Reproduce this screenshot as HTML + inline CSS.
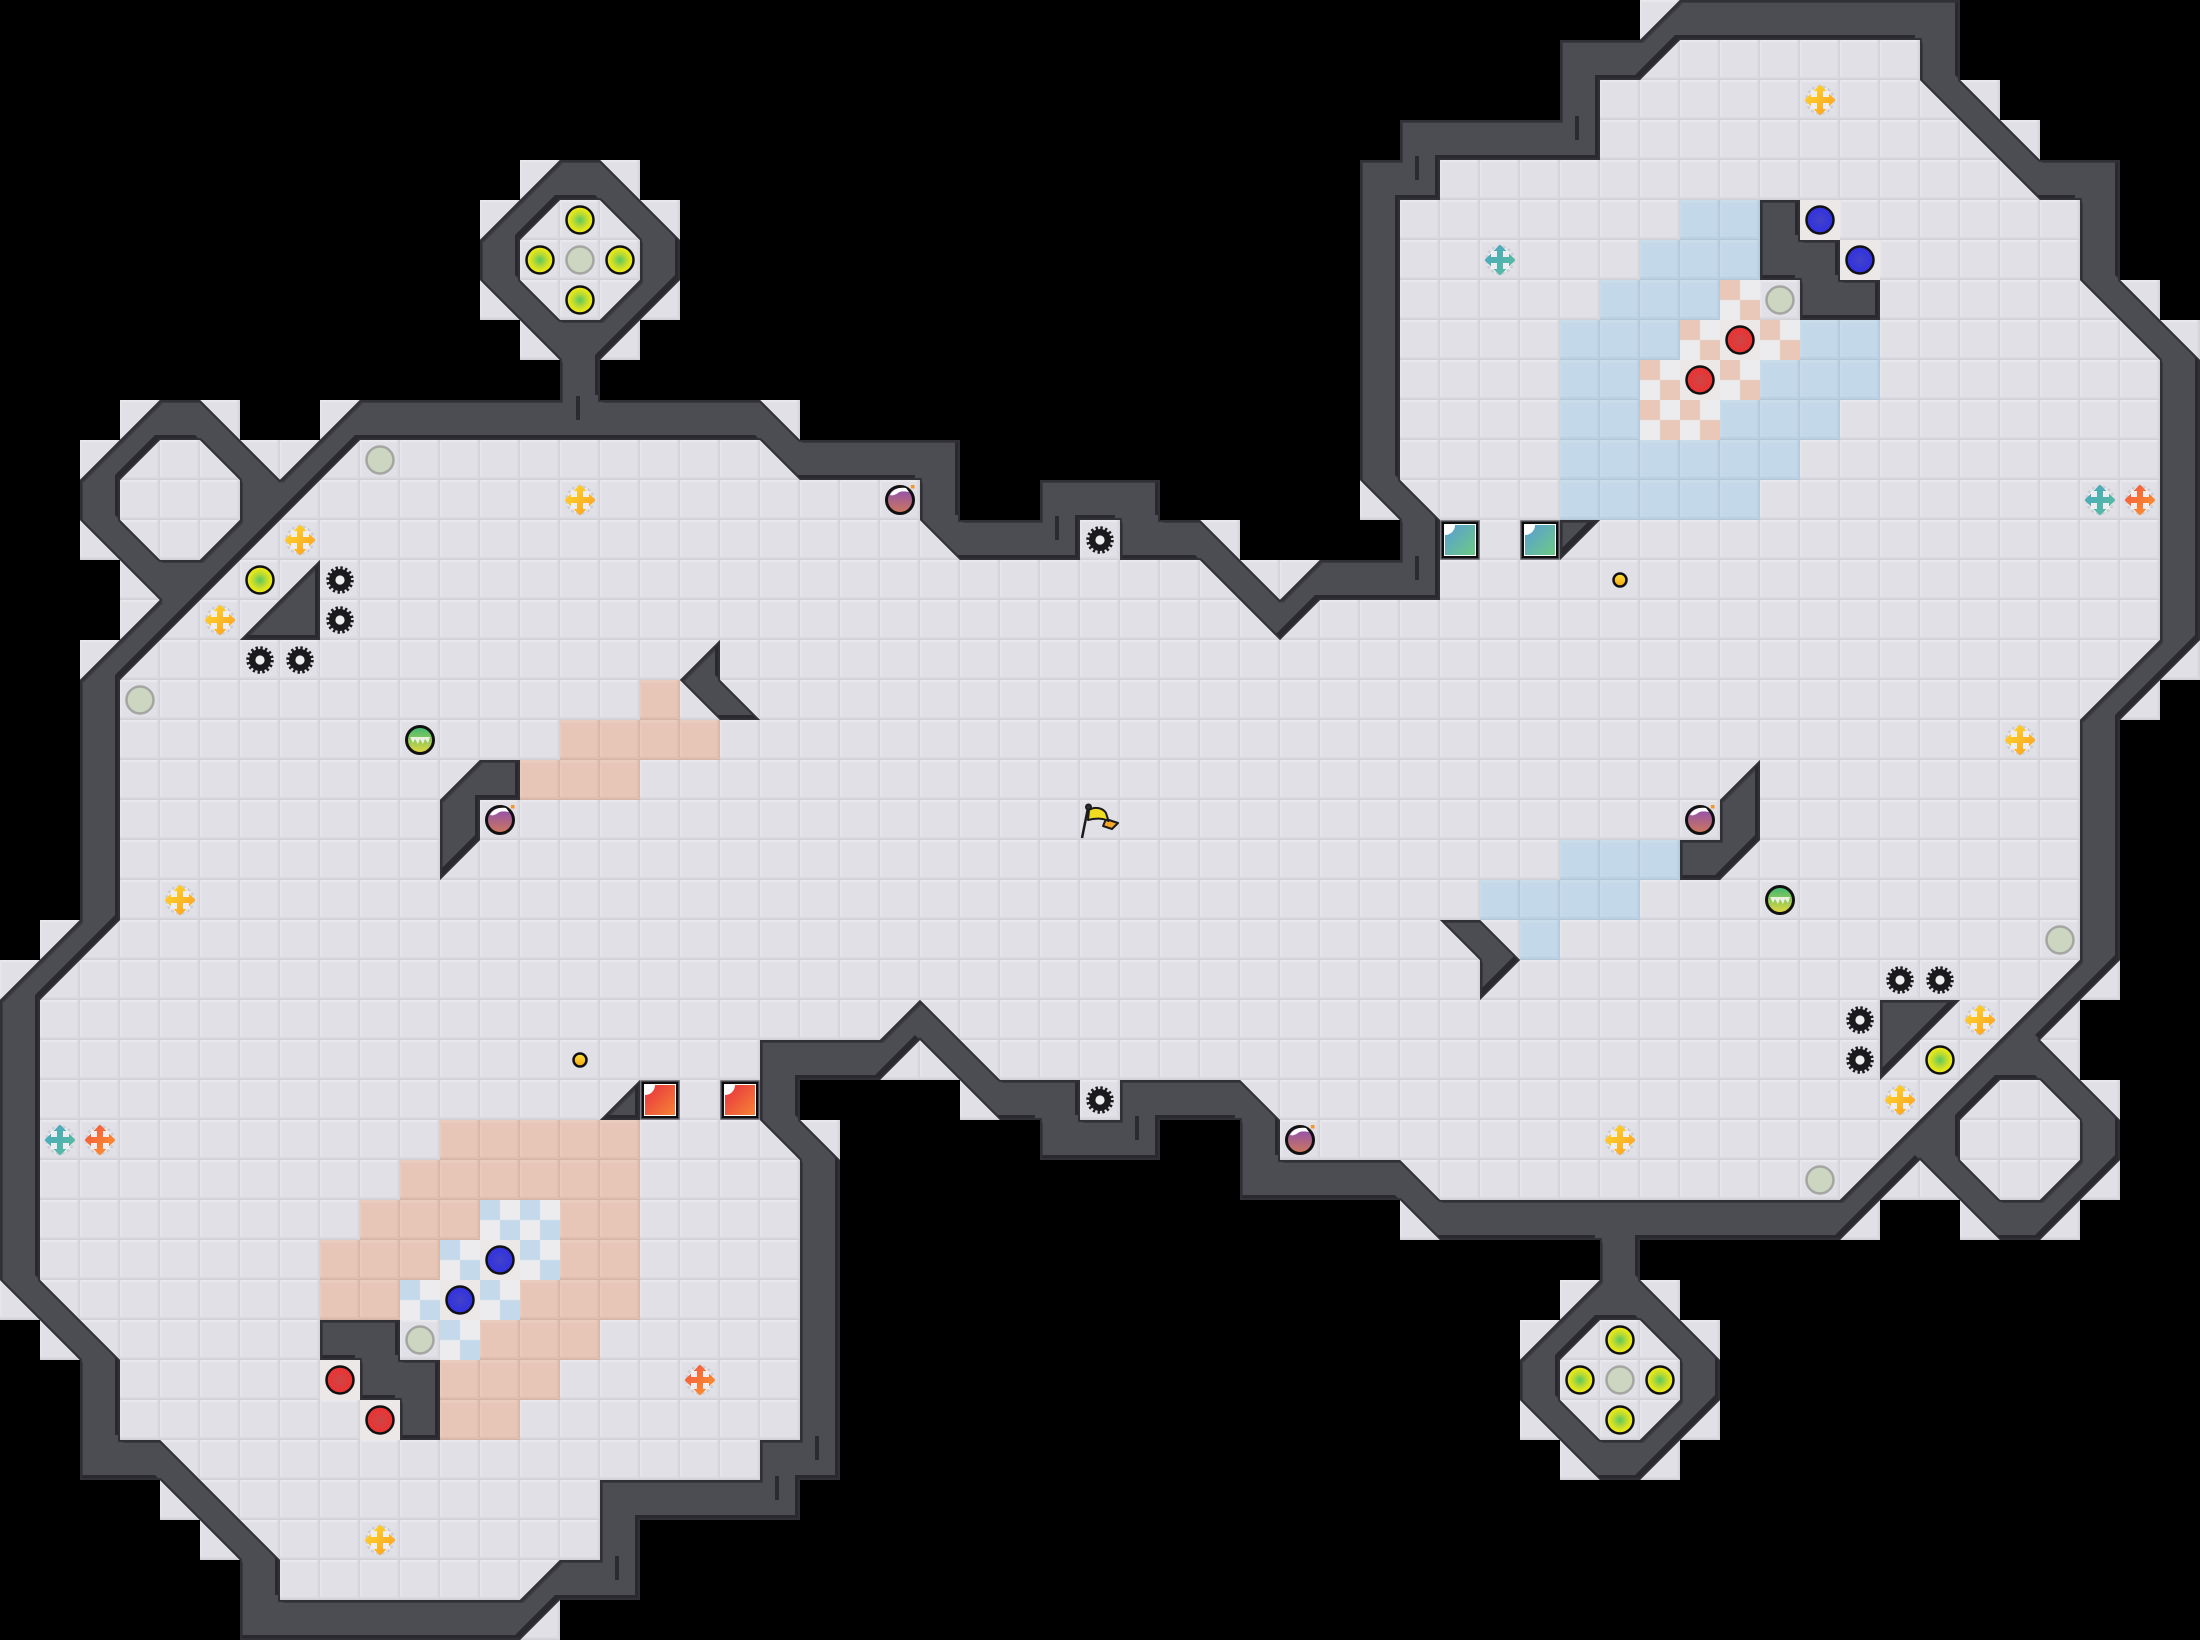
<!DOCTYPE html>
<html>
<head>
<meta charset="utf-8">
<style>
html,body{margin:0;padding:0;background:#000;width:2200px;height:1640px;overflow:hidden}
svg{display:block}
</style>
</head>
<body>
<svg xmlns="http://www.w3.org/2000/svg" width="2200" height="1640" viewBox="0 0 2200 1640">
<defs>
<pattern id="t" width="40" height="40" patternUnits="userSpaceOnUse" patternTransform="scale(.025)">
<rect width="40" height="40" fill="#e0e0e6"/>
<rect width="40" height="2" fill="#e8e8ed"/>
<rect width="2" height="40" fill="#e5e5ea"/>
<rect x="37" width="3" height="40" fill="#dadae0"/>
<rect x="39" width="1" height="40" fill="#d2d2d9"/>
<rect y="37" width="40" height="3" fill="#d9d9df"/>
<rect y="39" width="40" height="1" fill="#d0d0d7"/>
</pattern>
<pattern id="pe" width="40" height="40" patternUnits="userSpaceOnUse" patternTransform="scale(.025)">
<rect width="40" height="40" fill="#e7c6b8"/>
<rect width="40" height="3" fill="#eaccbf"/>
<rect width="2" height="40" fill="#e9cabc"/>
<rect x="37" width="3" height="40" fill="#e0bfb1"/>
<rect x="39" width="1" height="40" fill="#d7b6a8"/>
<rect y="37" width="40" height="3" fill="#dfbeb0"/>
<rect y="39" width="40" height="1" fill="#d6b5a7"/>
</pattern>
<pattern id="bl" width="40" height="40" patternUnits="userSpaceOnUse" patternTransform="scale(.025)">
<rect width="40" height="40" fill="#c3d8e8"/>
<rect width="40" height="3" fill="#c9dcea"/>
<rect width="2" height="40" fill="#c7dbea"/>
<rect x="37" width="3" height="40" fill="#bcd1e1"/>
<rect x="39" width="1" height="40" fill="#b3c8d8"/>
<rect y="37" width="40" height="3" fill="#bbd0e0"/>
<rect y="39" width="40" height="1" fill="#b2c7d7"/>
</pattern>
<pattern id="pc" width="40" height="40" patternUnits="userSpaceOnUse" patternTransform="scale(.025)">
<rect width="40" height="40" fill="#ecebee"/>
<rect width="20" height="20" fill="#e9c8ba"/>
<rect x="20" y="20" width="20" height="20" fill="#e9c8ba"/>
</pattern>
<pattern id="bc" width="40" height="40" patternUnits="userSpaceOnUse" patternTransform="scale(.025)">
<rect width="40" height="40" fill="#ecebee"/>
<rect width="20" height="20" fill="#c4d9e9"/>
<rect x="20" y="20" width="20" height="20" fill="#c4d9e9"/>
</pattern>
<path id="W" fill-rule="evenodd" clip-rule="evenodd" d="M4 10L5 10 7 12 9 10 14 10 14 9 12 7 12 6 14 4 15 4 17 6 17 7 15 9 15 10 19 10 20 11 24 11 24 13 26 13 26 12 29 12 29 13 30 13 32 15 33 14 35 14 35 13 34 12 34 4 35 4 35 3 39 3 39 1 41 1 42 0 49 0 49 2 51 4 53 4 53 7 55 9 55 16 53 18 53 24 51 26 53 28 53 29 51 31 50 31 48 29 46 31 41 31 41 32 43 34 43 35 41 37 40 37 38 35 38 34 40 32 40 31 36 31 35 30 31 30 31 28 29 28 29 29 26 29 26 28 25 28 23 26 22 27 20 27 20 28 21 29 21 37 20 37 20 38 16 38 16 40 14 40 13 41 6 41 6 39 4 37 2 37 2 34 0 32 0 25 2 23 2 17 4 15 2 13 2 12Z
M3 17L9 11 19 11 20 12 23 12 23 13 24 14 27 14 27 13 28 13 28 14 30 14 32 16 33 15 36 15 36 13 35 12 35 5 36 5 36 4 40 4 40 2 41 2 42 1 48 1 48 2 51 5 52 5 52 7 54 9 54 16 52 18 52 24 46 30 36 30 35 29 32 29 32 28 31 27 28 27 28 28 27 28 27 27 25 27 23 25 22 26 19 26 19 28 20 29 20 36 19 36 19 37 15 37 15 39 14 39 13 40 7 40 7 39 4 36 3 36 3 34 1 32 1 25 3 23Z
M4 11h1l1 1v1l-1 1h-1l-1-1v-1z
M50 27h1l1 1v1l-1 1h-1l-1-1v-1z
M14 5h1l1 1v1l-1 1h-1l-1-1v-1z
M40 33h1l1 1v1l-1 1h-1l-1-1v-1z
M6 16L8 14V16Z
M47 25H49L47 27Z
M15 28L16 27V28Z
M39 13H40L39 14Z
M18 16V17L19 18H18L17 17Z
M12 19H13V20H12V21L11 22V20Z
M44 19V21L43 22H42V21H43V20Z
M36 23H37L38 24L37 25V24Z
M44 5H45V6H46V7H47V8H45V7H44Z
M8 33H10V34H11V36H10V35H9V34H8Z"/>
<clipPath id="w"><use href="#W" transform="scale(40)" clip-rule="evenodd"/></clipPath>

<radialGradient id="gl"><stop offset="0" stop-color="#58c862"/><stop offset=".45" stop-color="#b4d936"/><stop offset=".8" stop-color="#e6e81a"/><stop offset="1" stop-color="#ecec12"/></radialGradient>
<radialGradient id="gb"><stop offset="0" stop-color="#4242c8"/><stop offset="1" stop-color="#3030e2"/></radialGradient>
<radialGradient id="gr"><stop offset="0" stop-color="#cc4646"/><stop offset="1" stop-color="#f03030"/></radialGradient>
<linearGradient id="cy" x1="0" y1="0" x2="1" y2="1"><stop offset="0" stop-color="#ffdb2c"/><stop offset="1" stop-color="#fb9c20"/></linearGradient>
<linearGradient id="ct" x1="0" y1="0" x2="1" y2="1"><stop offset="0" stop-color="#45a4c4"/><stop offset="1" stop-color="#5cc09a"/></linearGradient>
<linearGradient id="co" x1="0" y1="0" x2="1" y2="1"><stop offset="0" stop-color="#f34f40"/><stop offset="1" stop-color="#fd9c2c"/></linearGradient>
<linearGradient id="gp" x1="0" y1="0" x2="0" y2="1"><stop offset="0" stop-color="#8a4db8"/><stop offset="1" stop-color="#cf7858"/></linearGradient>
<linearGradient id="gs" x1="0" y1="0" x2="0" y2="1"><stop offset="0" stop-color="#38b874"/><stop offset="1" stop-color="#e8d83c"/></linearGradient>
<linearGradient id="gy" x1="0" y1="0" x2="0" y2="1"><stop offset="0" stop-color="#ffe23c"/><stop offset="1" stop-color="#f4a510"/></linearGradient>
<linearGradient id="gt" x1="0" y1="0" x2="1" y2="1"><stop offset="0" stop-color="#5a9cd4"/><stop offset="1" stop-color="#6ccb84"/></linearGradient>
<linearGradient id="gd" x1="0" y1="0" x2="1" y2="1"><stop offset="0" stop-color="#e6303f"/><stop offset="1" stop-color="#f98436"/></linearGradient>

<circle id="lime" r="13.5" fill="url(#gl)" stroke="#111" stroke-width="2.5"/>
<circle id="gray" r="13.5" fill="#cdd6c1" stroke="#a4a6a2" stroke-width="2.5"/>
<circle id="blue" r="13.5" fill="url(#gb)" stroke="#111" stroke-width="2.5"/>
<circle id="red" r="13.5" fill="url(#gr)" stroke="#111" stroke-width="2.5"/>
<circle id="small" r="6.5" fill="url(#gy)" stroke="#111" stroke-width="2.5"/>
<g id="gear">
<circle r="11" fill="#1b1b1e"/>
<circle r="12" fill="none" stroke="#1b1b1e" stroke-width="3.5" stroke-dasharray="2.35 2.36"/>
<circle r="4.6" fill="#eeeef0"/>
</g>
<path id="cp" d="M0-15.500L6.500-9H3V-3H9V-6.500L15.500 0 9 6.500V3H3V9H6.500L0 15.500-6.500 9H-3V3H-9V6.500L-15.500 0-9-6.500V-3H-3V-9H-6.500Z"/>
<g id="back"><circle r="13" fill="#eeeef1"/><circle r="13.500" fill="none" stroke="#cdcdd4" stroke-width="2.500" stroke-dasharray="3 2.500"/></g>
<g id="xy"><use href="#back"/><use href="#cp" fill="url(#cy)"/></g>
<g id="xt"><use href="#back"/><use href="#cp" fill="url(#ct)"/></g>
<g id="xo"><use href="#back"/><use href="#cp" fill="url(#co)"/></g>
<g id="bomb">
<circle r="13.500" fill="url(#gp)" stroke="#111" stroke-width="3"/>
<path d="M-10-5C-7-11-1-13 6-12L9-8C4-9 0-9-2-7-5-5-8-4-10-5Z" fill="#fff"/>
<rect x="11" y="-15" width="3.500" height="3.500" fill="#f5962a"/>
</g>
<g id="spring">
<circle r="13.500" fill="url(#gs)" stroke="#111" stroke-width="3"/>
<path d="M-10-3H10L8 3 5-1 3 4 0-1-2 4-5-1-7 3Z" fill="#f4f4ee" fill-opacity=".9"/>
</g>
<g id="sq">
<rect x="1" y="1" width="38" height="38" fill="#0c0c0e" stroke="#5a5a60" stroke-width="1.500"/>
<rect x="4" y="4" width="32" height="32" fill="#fff"/>
</g>
</defs>

<rect width="2200" height="1640" fill="#000"/>

<!-- floor -->
<path transform="scale(40)" fill="url(#t)" d="M41 0h1v1h-1zM41 1h8v1h-8zM40 2h10v1h-10zM40 3h11v1h-11zM36 4h17v1h-17zM13 4h3v1h-3zM35 5h17v1h-17zM12 5h5v3h-5zM35 6h17v1h-17zM35 7h19v1h-19zM35 8h20v1h-20zM13 8h3v1h-3zM35 9h19v1h-19zM3 10h1v1h-1zM5 10h1v1h-1zM8 10h1v1h-1zM19 10h1v1h-1zM35 10h19v1h-19zM2 11h18v1h-18zM35 11h19v1h-19zM3 12h21v1h-21zM34 12h20v1h-20zM2 13h22v1h-22zM27 13h1v1h-1zM30 13h1v1h-1zM35 13h19v1h-19zM3 14h30v1h-30zM35 14h19v1h-19zM3 15h51v1h-51zM2 16h53v1h-53zM3 17h51v1h-51zM3 18h49v5h-49zM1 23h51v1h-51zM0 24h53v1h-53zM1 25h51v1h-51zM1 26h19v1h-19zM22 26h30v1h-30zM1 27h19v1h-19zM24 27h1v1h-1zM27 27h1v1h-1zM31 27h22v1h-22zM1 28h20v1h-20zM31 28h21v1h-21zM1 29h19v1h-19zM35 29h18v1h-18zM1 30h19v1h-19zM35 30h1v1h-1zM46 30h1v1h-1zM49 30h1v1h-1zM51 30h1v1h-1zM1 31h19v1h-19zM0 32h20v1h-20zM39 32h3v1h-3zM1 33h19v1h-19zM38 33h5v3h-5zM3 34h17v2h-17zM2 36h17v1h-17zM39 36h3v1h-3zM4 37h11v1h-11zM5 38h10v1h-10zM6 39h8v1h-8zM13 40h1v1h-1z"/>

<!-- peach patches -->
<path transform="scale(40)" fill="url(#pe)" d="M16 17h1v1h-1zM14 18h4v1h-4zM13 19h3v1h-3zM11 28h5v1h-5zM10 29h6v1h-6zM14 30h2v1h-2zM9 30h3v1h-3zM14 31h2v1h-2zM8 31h3v1h-3zM13 32h3v1h-3zM8 32h2v1h-2zM12 33h3v1h-3zM11 34h3v1h-3zM11 35h2v1h-2z"/>
<!-- blue patches -->
<path transform="scale(40)" fill="url(#bl)" d="M38 23h1v1h-1zM37 22h4v1h-4zM39 21h3v1h-3zM42 5h2v1h-2zM41 6h3v1h-3zM40 7h3v1h-3zM39 8h3v1h-3zM45 8h2v1h-2zM39 9h2v1h-2zM44 9h3v1h-3zM39 10h2v1h-2zM43 10h3v1h-3zM39 11h6v1h-6zM39 12h5v1h-5z"/>
<!-- checker cells -->
<path transform="scale(40)" fill="url(#pc)" d="M43 7h1v1h-1zM42 8h1v1h-1zM44 8h1v1h-1zM41 9h1v1h-1zM43 9h1v1h-1zM41 10h2v1h-2z"/>
<path transform="scale(40)" fill="url(#bc)" d="M12 30h2v1h-2zM11 31h1v1h-1zM13 31h1v1h-1zM10 32h1v1h-1zM12 32h1v1h-1zM11 33h1v1h-1z"/>
<!-- lit cells under balls -->
<path transform="scale(40)" fill="#ece8e8" d="M43 8h1v1h-1zM42 9h1v1h-1zM45 5h1v1h-1zM46 6h1v1h-1zM12 31h1v1h-1zM11 32h1v1h-1zM8 34h1v1h-1zM9 35h1v1h-1z"/>

<!-- walls -->
<g clip-path="url(#w)">
<rect width="2200" height="1640" fill="#29292e"/>
<g transform="translate(-5,-5)" clip-path="url(#w)">
<rect x="-10" y="-10" width="2300" height="1700" fill="#39393f"/>
<use href="#W" transform="translate(8,8) scale(40)" fill="#4c4c53"/>
</g>
<use href="#W" transform="scale(40)" fill="none" stroke="#303036" stroke-width=".1"/>
</g>

<!-- wall ticks -->
<g fill="#2a2a2f">
<rect x="576" y="396" width="4" height="24"/>
<rect x="1055" y="516" width="4" height="24"/>
<rect x="1415" y="556" width="4" height="24"/>
<rect x="1415" y="156" width="4" height="24"/>
<rect x="1575" y="116" width="4" height="24"/>
<rect x="1135" y="1116" width="4" height="24"/>
<rect x="815" y="1436" width="4" height="24"/>
<rect x="775" y="1476" width="4" height="24"/>
<rect x="615" y="1556" width="4" height="24"/>
</g>

<!-- squares -->
<use href="#sq" x="1440" y="520"/><rect x="1445" y="525" width="30" height="30" fill="url(#gt)"/><path d="M1445 525h10a10 10 0 0 1-10 10z" fill="#fff"/>
<use href="#sq" x="1520" y="520"/><rect x="1525" y="525" width="30" height="30" fill="url(#gt)"/><path d="M1525 525h10a10 10 0 0 1-10 10z" fill="#fff"/>
<use href="#sq" x="640" y="1080"/><rect x="645" y="1085" width="30" height="30" fill="url(#gd)"/><path d="M645 1085h10a10 10 0 0 1-10 10z" fill="#fff"/>
<use href="#sq" x="720" y="1080"/><rect x="725" y="1085" width="30" height="30" fill="url(#gd)"/><path d="M725 1085h10a10 10 0 0 1-10 10z" fill="#fff"/>

<!-- balls -->
<use href="#lime" x="580" y="220"/><use href="#lime" x="540" y="260"/><use href="#lime" x="620" y="260"/><use href="#lime" x="580" y="300"/>
<use href="#lime" x="1620" y="1340"/><use href="#lime" x="1580" y="1380"/><use href="#lime" x="1660" y="1380"/><use href="#lime" x="1620" y="1420"/>
<use href="#lime" x="260" y="580"/><use href="#lime" x="1940" y="1060"/>

<use href="#gray" x="580" y="260"/><use href="#gray" x="1620" y="1380"/><use href="#gray" x="380" y="460"/><use href="#gray" x="140" y="700"/>
<use href="#gray" x="2060" y="940"/><use href="#gray" x="1820" y="1180"/><use href="#gray" x="1780" y="300"/><use href="#gray" x="420" y="1340"/>

<use href="#blue" x="1820" y="220"/><use href="#blue" x="1860" y="260"/><use href="#blue" x="500" y="1260"/><use href="#blue" x="460" y="1300"/>
<use href="#red" x="1740" y="340"/><use href="#red" x="1700" y="380"/><use href="#red" x="340" y="1380"/><use href="#red" x="380" y="1420"/>

<use href="#small" x="1620" y="580"/><use href="#small" x="580" y="1060"/>

<!-- gears -->
<use href="#gear" x="340" y="580"/><use href="#gear" x="340" y="620"/><use href="#gear" x="260" y="660"/><use href="#gear" x="300" y="660"/>
<use href="#gear" x="1900" y="980"/><use href="#gear" x="1940" y="980"/><use href="#gear" x="1860" y="1020"/><use href="#gear" x="1860" y="1060"/>
<use href="#gear" x="1100" y="540"/><use href="#gear" x="1100" y="1100"/>

<!-- crosses -->
<use href="#xy" x="1820" y="100"/><use href="#xy" x="580" y="500"/><use href="#xy" x="300" y="540"/><use href="#xy" x="220" y="620"/><use href="#xy" x="180" y="900"/>
<use href="#xy" x="2020" y="740"/><use href="#xy" x="1980" y="1020"/><use href="#xy" x="1900" y="1100"/><use href="#xy" x="1620" y="1140"/><use href="#xy" x="380" y="1540"/>
<use href="#xt" x="1500" y="260"/><use href="#xt" x="2100" y="500"/><use href="#xt" x="60" y="1140"/>
<use href="#xo" x="2140" y="500"/><use href="#xo" x="100" y="1140"/><use href="#xo" x="700" y="1380"/>

<!-- bombs and springs -->
<use href="#bomb" x="900" y="500"/><use href="#bomb" x="500" y="820"/><use href="#bomb" x="1700" y="820"/><use href="#bomb" x="1300" y="1140"/>
<use href="#spring" x="420" y="740"/><use href="#spring" x="1780" y="900"/>

<!-- flag -->
<g stroke="#1b1b1b" stroke-width="2" stroke-linejoin="round">
<path d="M1106 819L1118 823 1112 829 1103 826Z" fill="#f4a62a"/>
<path d="M1089 810C1095 806 1103 808 1106 813L1108.500 821C1103 818 1095 818 1088 820Z" fill="#f0dc20"/>
<path d="M1088 808L1082 838" fill="none" stroke-width="2.500"/>
<circle cx="1088.500" cy="807" r="2.500" fill="#333"/>
</g>
</svg>
</body>
</html>
